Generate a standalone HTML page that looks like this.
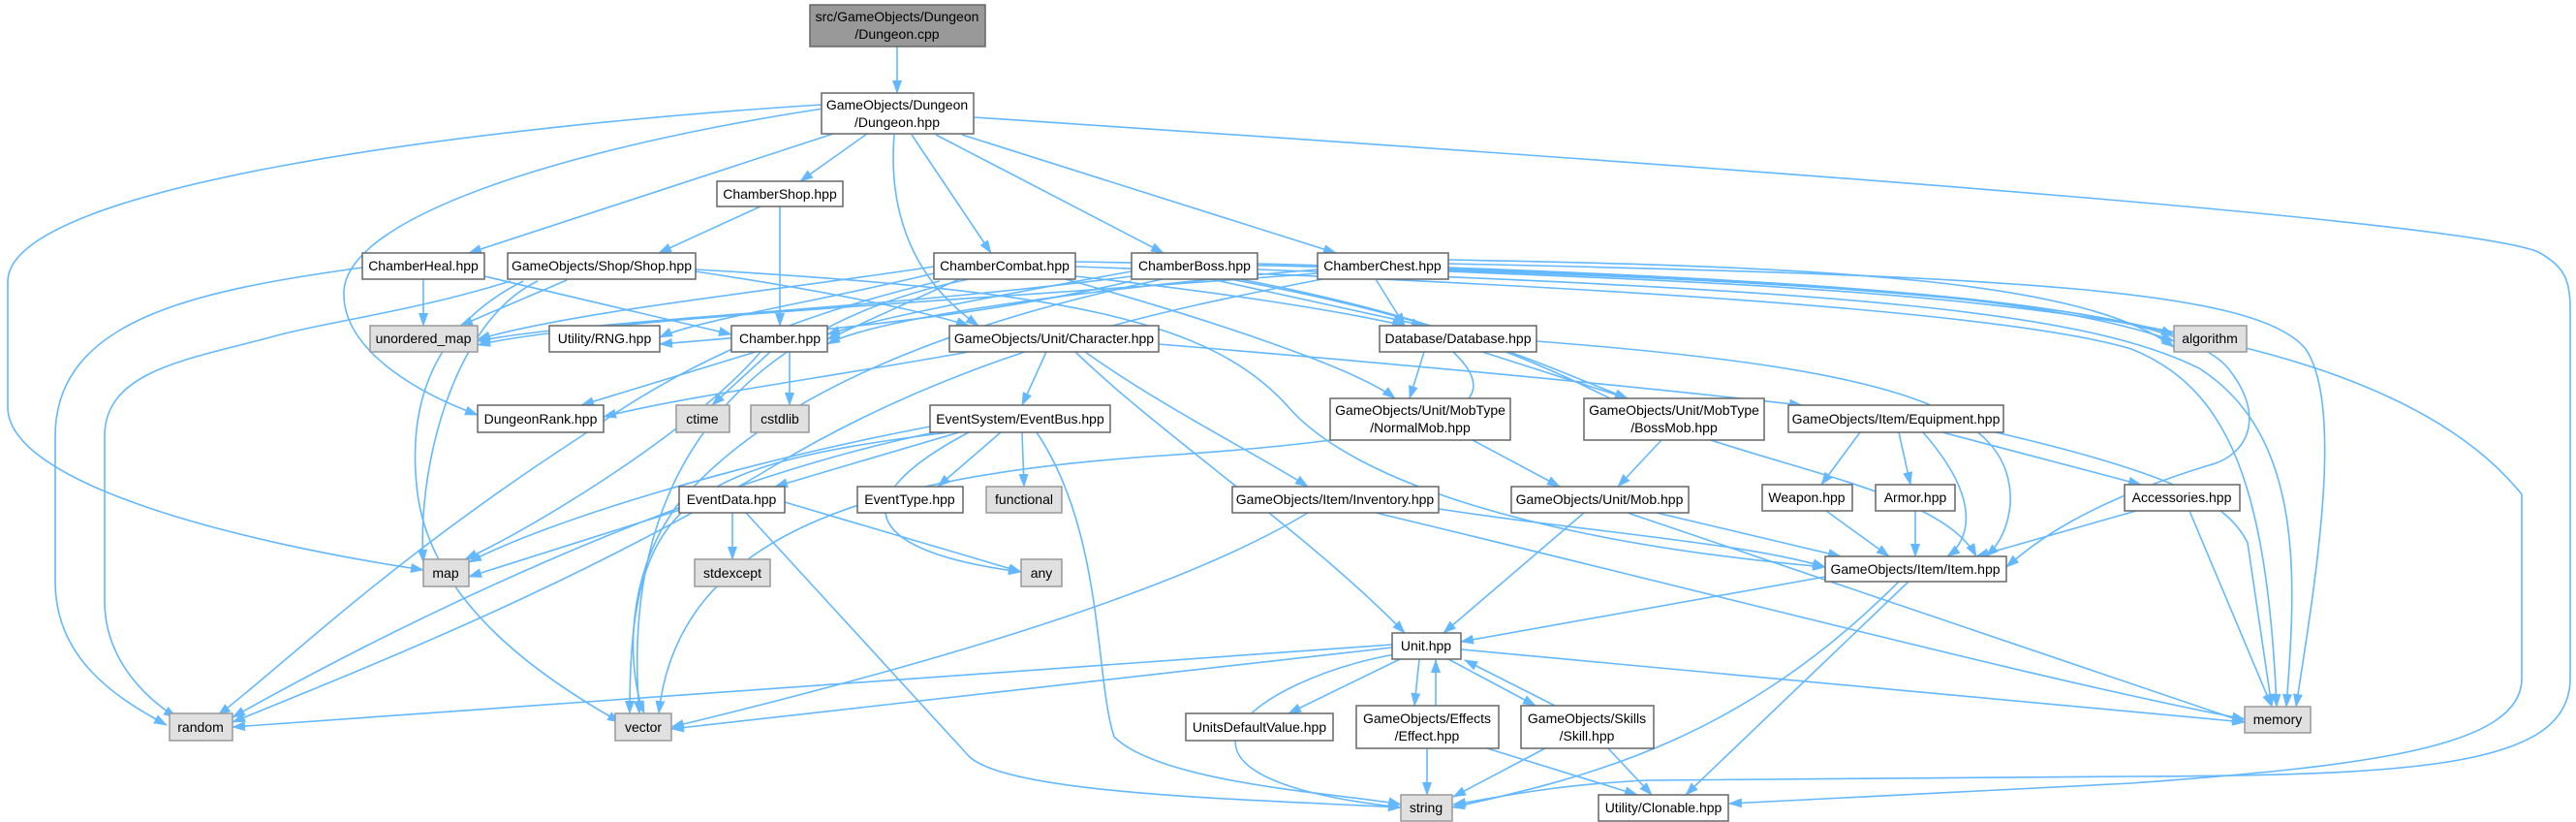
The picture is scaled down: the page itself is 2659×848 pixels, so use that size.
<!DOCTYPE html>
<html><head><meta charset="utf-8"><style>
html,body{margin:0;padding:0;background:#fff;}
svg{display:block;}
text{font-family:"Liberation Sans",Arial,sans-serif;font-size:14px;fill:#000;text-anchor:middle;}
.e{fill:none;stroke:#63b8ff;stroke-width:1.6;marker-end:url(#a);}
.n{fill:#fff;stroke:#666;stroke-width:1.5;}
.g{fill:#e0e0e0;stroke:#999;stroke-width:1.5;}
.s{fill:#999;stroke:#666;stroke-width:1.5;}
</style></head><body>
<svg width="2659" height="848" viewBox="0 0 2659 848" xmlns="http://www.w3.org/2000/svg">
<defs><marker id="a" markerWidth="14" markerHeight="10" refX="13" refY="5" orient="auto" markerUnits="userSpaceOnUse"><path d="M0,0 L14,5 L0,10 z" fill="#63b8ff"/></marker></defs>

<!-- edges -->
<path class="e" d="M926,48 L926,96"/>
<path class="e" d="M848,108 C500,130 10,190 8,290 L8,420 C8,500 250,560 437,588"/>
<path class="e" d="M850,112 C600,150 360,220 355,300 C352,360 430,405 493,428"/>
<path class="e" d="M860,138 L484,261"/>
<path class="e" d="M895,138 L826,187"/>
<path class="e" d="M923,139 C918,200 930,280 1010,336"/>
<path class="e" d="M941,139 L1023,261"/>
<path class="e" d="M966,139 L1201,261"/>
<path class="e" d="M993,139 L1379,261"/>
<path class="e" d="M1005,121 C1900,180 2550,230 2620,260 C2648,275 2653,290 2653,320 L2653,700 C2653,790 2500,800 2200,801 L1700,805 C1600,810 1550,822 1500,830"/>
<path class="e" d="M805,213 L805,336"/>
<path class="e" d="M785,213 L680,261"/>
<path class="e" d="M437,288 L437,336"/>
<path class="e" d="M374,276 C200,300 57,330 57,450 L57,600 C57,680 120,720 172,748"/>
<path class="e" d="M500,285 L755,345"/>
<path class="e" d="M585,289 L475,336"/>
<path class="e" d="M527,290 C430,320 350,330 290,345 C200,370 108,380 108,450 L108,620 C108,680 150,720 182,740"/>
<path class="e" d="M718,280 C850,300 950,320 1000,336"/>
<path class="e" d="M718,278 C1100,300 1250,330 1330,420 C1400,500 1600,560 1884,585"/>
<path class="e" d="M540,290 C460,330 420,400 430,500 C440,620 560,700 640,745"/>
<path class="e" d="M555,290 C470,330 430,480 437,580"/>
<path class="e" d="M964,275 C800,300 600,320 493,350"/>
<path class="e" d="M990,288 L854,350"/>
<path class="e" d="M1110,285 C1250,300 1380,320 1450,336"/>
<path class="e" d="M1100,288 C1250,330 1400,380 1440,411"/>
<path class="e" d="M964,282 C850,310 720,330 681,348"/>
<path class="e" d="M1000,288 C750,340 640,500 660,736"/>
<path class="e" d="M970,290 C800,330 700,380 600,450 C400,580 300,680 225,738"/>
<path class="e" d="M1110,270 C1700,280 2100,300 2244,345"/>
<path class="e" d="M1110,275 C1800,300 2100,330 2200,360 C2300,400 2340,500 2350,729"/>
<path class="e" d="M1168,280 C1000,310 900,330 854,345"/>
<path class="e" d="M1168,285 C900,320 600,330 493,352"/>
<path class="e" d="M1168,290 C1000,330 800,345 681,355"/>
<path class="e" d="M1250,288 L1470,336"/>
<path class="e" d="M1270,288 C1500,330 1600,380 1680,411"/>
<path class="e" d="M1298,272 C1800,285 2100,300 2244,352"/>
<path class="e" d="M1298,278 C1900,300 2150,320 2270,380 C2380,450 2370,600 2360,729"/>
<path class="e" d="M1280,288 C1500,330 1600,380 1680,420 C1800,480 2000,500 2040,574"/>
<path class="e" d="M1200,288 C1000,330 800,400 700,520 C640,600 650,700 665,736"/>
<path class="e" d="M1420,288 L1450,336"/>
<path class="e" d="M1360,278 C1100,300 900,330 854,355"/>
<path class="e" d="M1360,282 C1000,310 600,330 493,356"/>
<path class="e" d="M1495,268 C1900,275 2150,290 2244,358"/>
<path class="e" d="M1495,272 C2100,285 2330,300 2380,360 C2420,420 2390,600 2370,729"/>
<path class="e" d="M1495,276 C2000,295 2250,320 2300,380 C2340,430 2320,470 2280,480 C2150,520 2100,560 2071,585"/>
<path class="e" d="M1495,280 C2000,300 2450,320 2603,510 L2603,700 C2603,770 2450,790 2200,808 L1785,829"/>
<path class="e" d="M1365,288 C1200,320 1000,360 800,480 C600,600 400,680 240,745"/>
<path class="e" d="M795,363 L735,418"/>
<path class="e" d="M780,363 L600,418"/>
<path class="e" d="M815,363 L815,418"/>
<path class="e" d="M785,363 C720,440 560,540 480,577"/>
<path class="e" d="M1080,363 L1055,418"/>
<path class="e" d="M1000,363 C850,390 700,410 623,430"/>
<path class="e" d="M1110,363 C1200,450 1350,550 1450,653"/>
<path class="e" d="M1120,363 C1200,420 1300,470 1350,502"/>
<path class="e" d="M1196,355 C1500,380 1700,400 1860,418"/>
<path class="e" d="M1470,363 L1455,411"/>
<path class="e" d="M1530,363 L1680,411"/>
<path class="e" d="M1500,363 C1560,420 1500,450 1200,470 C900,490 700,550 680,736"/>
<path class="e" d="M1586,352 C1950,380 2080,420 2075,520 C2072,550 2060,565 2050,574"/>
<path class="e" d="M1520,454 L1610,502"/>
<path class="e" d="M1715,454 L1670,502"/>
<path class="e" d="M1920,446 L1880,500"/>
<path class="e" d="M1960,446 L1972,500"/>
<path class="e" d="M2005,446 L2210,500"/>
<path class="e" d="M1985,446 C2050,520 2030,560 2010,574"/>
<path class="e" d="M2060,446 C2250,490 2300,520 2320,560 L2345,729"/>
<path class="e" d="M1055,446 L1057,502"/>
<path class="e" d="M1033,446 L968,502"/>
<path class="e" d="M990,446 L800,502"/>
<path class="e" d="M960,440 C750,480 560,540 484,580"/>
<path class="e" d="M965,446 C700,500 400,650 240,740"/>
<path class="e" d="M980,446 C700,480 650,520 650,736"/>
<path class="e" d="M1000,446 C860,520 900,570 1054,590"/>
<path class="e" d="M1070,446 C1140,550 1130,700 1150,760 C1200,810 1400,820 1446,830"/>
<path class="e" d="M756,529 L756,577"/>
<path class="e" d="M705,525 L484,595"/>
<path class="e" d="M810,518 L1054,590"/>
<path class="e" d="M770,529 L1000,780 C1040,820 1300,825 1446,833"/>
<path class="e" d="M1485,525 C1650,550 1800,560 1884,585"/>
<path class="e" d="M1350,529 C1200,620 900,700 693,750"/>
<path class="e" d="M1420,529 C1800,620 2100,700 2317,742"/>
<path class="e" d="M1635,529 L1490,653"/>
<path class="e" d="M1710,529 L1900,574"/>
<path class="e" d="M1680,529 L2317,745"/>
<path class="e" d="M1885,527 L1950,574"/>
<path class="e" d="M1977,527 L1977,574"/>
<path class="e" d="M2205,527 L2040,574"/>
<path class="e" d="M2260,527 L2345,729"/>
<path class="e" d="M1884,595 L1508,662"/>
<path class="e" d="M1960,600 C1800,760 1650,800 1499,833"/>
<path class="e" d="M1970,600 L1740,820"/>
<path class="e" d="M1437,665 L240,750"/>
<path class="e" d="M1437,668 L693,752"/>
<path class="e" d="M1508,670 L2317,745"/>
<path class="e" d="M1445,680 L1330,736"/>
<path class="e" d="M1465,680 L1460,728"/>
<path class="e" d="M1495,680 L1585,728"/>
<path class="e" d="M1440,675 C1300,700 1150,800 1446,833"/>
<path class="e" d="M1482,728 L1482,681"/>
<path class="e" d="M1605,728 L1512,681"/>
<path class="e" d="M1473,772 L1473,820"/>
<path class="e" d="M1535,772 L1690,820"/>
<path class="e" d="M1595,772 L1500,822"/>
<path class="e" d="M1660,772 L1705,820"/>

<!-- nodes -->
<rect class="s" x="836" y="5" width="181" height="43"/><text x="926" y="22">src/GameObjects/Dungeon</text><text x="926" y="40">/Dungeon.cpp</text>
<rect class="n" x="848" y="96" width="157" height="42"/><text x="926" y="113">GameObjects/Dungeon</text><text x="926" y="131">/Dungeon.hpp</text>
<rect class="n" x="740" y="187" width="130" height="26"/><text x="805" y="205">ChamberShop.hpp</text>
<rect class="n" x="374" y="261" width="126" height="27"/><text x="437" y="279">ChamberHeal.hpp</text>
<rect class="n" x="524" y="261" width="194" height="27"/><text x="621" y="279">GameObjects/Shop/Shop.hpp</text>
<rect class="n" x="964" y="261" width="146" height="27"/><text x="1037" y="279">ChamberCombat.hpp</text>
<rect class="n" x="1168" y="261" width="130" height="27"/><text x="1233" y="279">ChamberBoss.hpp</text>
<rect class="n" x="1360" y="261" width="135" height="27"/><text x="1427" y="279">ChamberChest.hpp</text>
<rect class="g" x="382" y="336" width="111" height="27"/><text x="437" y="354">unordered_map</text>
<rect class="n" x="567" y="336" width="114" height="27"/><text x="624" y="354">Utility/RNG.hpp</text>
<rect class="n" x="755" y="336" width="99" height="27"/><text x="805" y="354">Chamber.hpp</text>
<rect class="n" x="980" y="336" width="216" height="27"/><text x="1088" y="354">GameObjects/Unit/Character.hpp</text>
<rect class="n" x="1424" y="336" width="162" height="27"/><text x="1505" y="354">Database/Database.hpp</text>
<rect class="g" x="2244" y="336" width="75" height="27"/><text x="2281" y="354">algorithm</text>
<rect class="n" x="493" y="418" width="130" height="28"/><text x="558" y="437">DungeonRank.hpp</text>
<rect class="g" x="698" y="418" width="55" height="28"/><text x="725" y="437">ctime</text>
<rect class="g" x="775" y="418" width="60" height="28"/><text x="805" y="437">cstdlib</text>
<rect class="n" x="960" y="418" width="186" height="28"/><text x="1053" y="437">EventSystem/EventBus.hpp</text>
<rect class="n" x="1373" y="411" width="186" height="43"/><text x="1466" y="428">GameObjects/Unit/MobType</text><text x="1466" y="446">/NormalMob.hpp</text>
<rect class="n" x="1635" y="411" width="186" height="43"/><text x="1728" y="428">GameObjects/Unit/MobType</text><text x="1728" y="446">/BossMob.hpp</text>
<rect class="n" x="1846" y="418" width="222" height="28"/><text x="1957" y="437">GameObjects/Item/Equipment.hpp</text>
<rect class="n" x="701" y="502" width="109" height="27"/><text x="755" y="520">EventData.hpp</text>
<rect class="n" x="885" y="502" width="109" height="27"/><text x="939" y="520">EventType.hpp</text>
<rect class="g" x="1018" y="502" width="78" height="27"/><text x="1057" y="520">functional</text>
<rect class="n" x="1272" y="502" width="213" height="27"/><text x="1378" y="520">GameObjects/Item/Inventory.hpp</text>
<rect class="n" x="1560" y="502" width="183" height="27"/><text x="1651" y="520">GameObjects/Unit/Mob.hpp</text>
<rect class="n" x="1819" y="500" width="93" height="27"/><text x="1865" y="518">Weapon.hpp</text>
<rect class="n" x="1936" y="500" width="82" height="27"/><text x="1977" y="518">Armor.hpp</text>
<rect class="n" x="2193" y="500" width="119" height="27"/><text x="2252" y="518">Accessories.hpp</text>
<rect class="g" x="437" y="577" width="47" height="28"/><text x="460" y="596">map</text>
<rect class="g" x="717" y="577" width="78" height="28"/><text x="756" y="596">stdexcept</text>
<rect class="g" x="1054" y="577" width="42" height="28"/><text x="1075" y="596">any</text>
<rect class="n" x="1884" y="574" width="187" height="26"/><text x="1977" y="592">GameObjects/Item/Item.hpp</text>
<rect class="n" x="1437" y="653" width="71" height="27"/><text x="1472" y="671">Unit.hpp</text>
<rect class="g" x="175" y="736" width="65" height="28"/><text x="207" y="755">random</text>
<rect class="g" x="635" y="736" width="58" height="28"/><text x="664" y="755">vector</text>
<rect class="n" x="1224" y="736" width="152" height="28"/><text x="1300" y="755">UnitsDefaultValue.hpp</text>
<rect class="n" x="1400" y="728" width="147" height="44"/><text x="1473" y="746">GameObjects/Effects</text><text x="1473" y="764">/Effect.hpp</text>
<rect class="n" x="1570" y="728" width="137" height="44"/><text x="1638" y="746">GameObjects/Skills</text><text x="1638" y="764">/Skill.hpp</text>
<rect class="g" x="2317" y="729" width="68" height="27"/><text x="2351" y="747">memory</text>
<rect class="g" x="1446" y="820" width="53" height="27"/><text x="1472" y="838">string</text>
<rect class="n" x="1650" y="820" width="134" height="27"/><text x="1717" y="838">Utility/Clonable.hpp</text>
</svg>
</body></html>
